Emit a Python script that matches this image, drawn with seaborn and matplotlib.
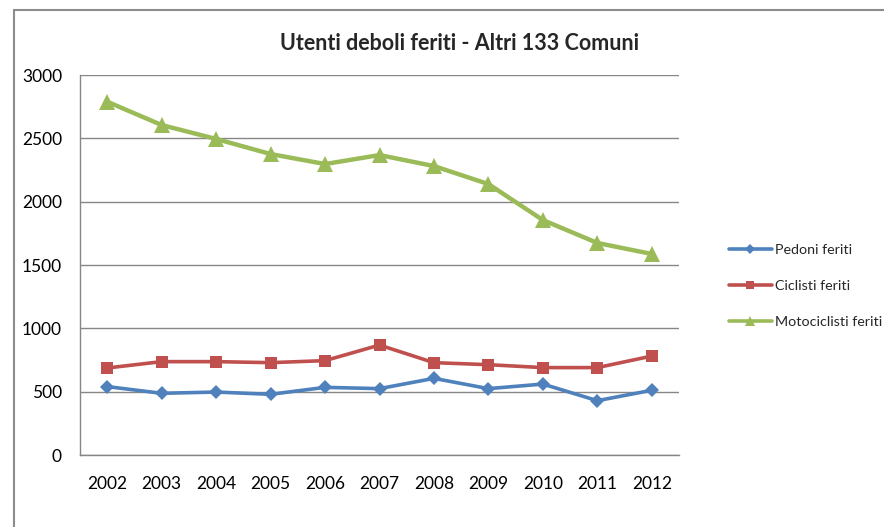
import matplotlib
matplotlib.use("Agg")
import matplotlib.pyplot as plt
import seaborn as sns
import pandas as pd
from matplotlib.lines import Line2D

years = ["2002", "2003", "2004", "2005", "2006", "2007", "2008", "2009", "2010", "2011", "2012"]
pedoni = [540, 487, 497, 479, 534, 524, 605, 524, 560, 429, 511]
ciclisti = [687, 737, 737, 729, 745, 868, 729, 713, 690, 690, 781]
motociclisti = [2789, 2605, 2495, 2376, 2297, 2368, 2281, 2139, 1855, 1674, 1587]
series_names = ["Pedoni feriti", "Ciclisti feriti", "Motociclisti feriti"]
colors = ["#4F81BD", "#C0504D", "#9BBB59"]
markers = ["D", "s", "^"]
msizes = [7, 9, 11]
lws = [2.6, 2.6, 3.2]

sns.set_style("white")
plt.rcParams["font.family"] = ["Lato", "DejaVu Sans"]

df = pd.DataFrame({
    "anno": years * 3,
    "idx": list(range(len(years))) * 3,
    "valore": pedoni + ciclisti + motociclisti,
    "serie": [series_names[0]] * len(years) + [series_names[1]] * len(years) + [series_names[2]] * len(years),
})

fig = plt.figure(figsize=(8.84, 5.27), dpi=100)
ax = fig.add_axes([80 / 884, 72 / 527, 599 / 884, 380 / 527])

for i, name in enumerate(series_names):
    sub = df[df["serie"] == name]
    sns.lineplot(data=sub, x="idx", y="valore", ax=ax, color=colors[i], marker=markers[i],
                 markersize=msizes[i], markeredgewidth=0, linewidth=lws[i], legend=False)

ax.set_xlim(-0.5, len(years) - 0.5)
ax.set_ylim(0, 3000)
ax.set_yticks(range(0, 3001, 500))
ax.set_xticks(range(len(years)))
ax.set_xticklabels(years)
ax.set_xlabel("")
ax.set_ylabel("")
ax.yaxis.grid(True, color="#868686", linewidth=1)
ax.set_axisbelow(True)
for s in ["top", "right"]:
    ax.spines[s].set_visible(False)
for s in ["left", "bottom"]:
    ax.spines[s].set_color("#868686")
    ax.spines[s].set_linewidth(1)
ax.tick_params(axis="both", length=0, labelsize=12.5, colors="black")
ax.tick_params(axis="x", pad=15)
ax.tick_params(axis="y", pad=13)

fig.text(459 / 884, 1 - 44 / 527, "Utenti deboli feriti - Altri 133 Comuni", ha="center", va="center",
         fontsize=15.5, fontweight="bold")

handles = [Line2D([0], [0], color=colors[i], marker=markers[i], markersize=msizes[i] * 0.7,
                  markeredgewidth=0, linewidth=2.6) for i in range(3)]
fig.legend(handles, series_names, loc="center left", bbox_to_anchor=(716 / 884, 1 - 286 / 527),
           frameon=False, fontsize=10.3, handlelength=3.0, handletextpad=0.25, labelspacing=1.7)

# chart frame
fig.add_artist(Line2D([14 / 884, 14 / 884], [0, 1 - 9.5 / 527], color="#8c8c8c", linewidth=1.5,
                      transform=fig.transFigure))
fig.add_artist(Line2D([14 / 884, 1], [1 - 9.5 / 527, 1 - 9.5 / 527], color="#8c8c8c", linewidth=1.5,
                      transform=fig.transFigure))

fig.savefig("out.png", dpi=100)
